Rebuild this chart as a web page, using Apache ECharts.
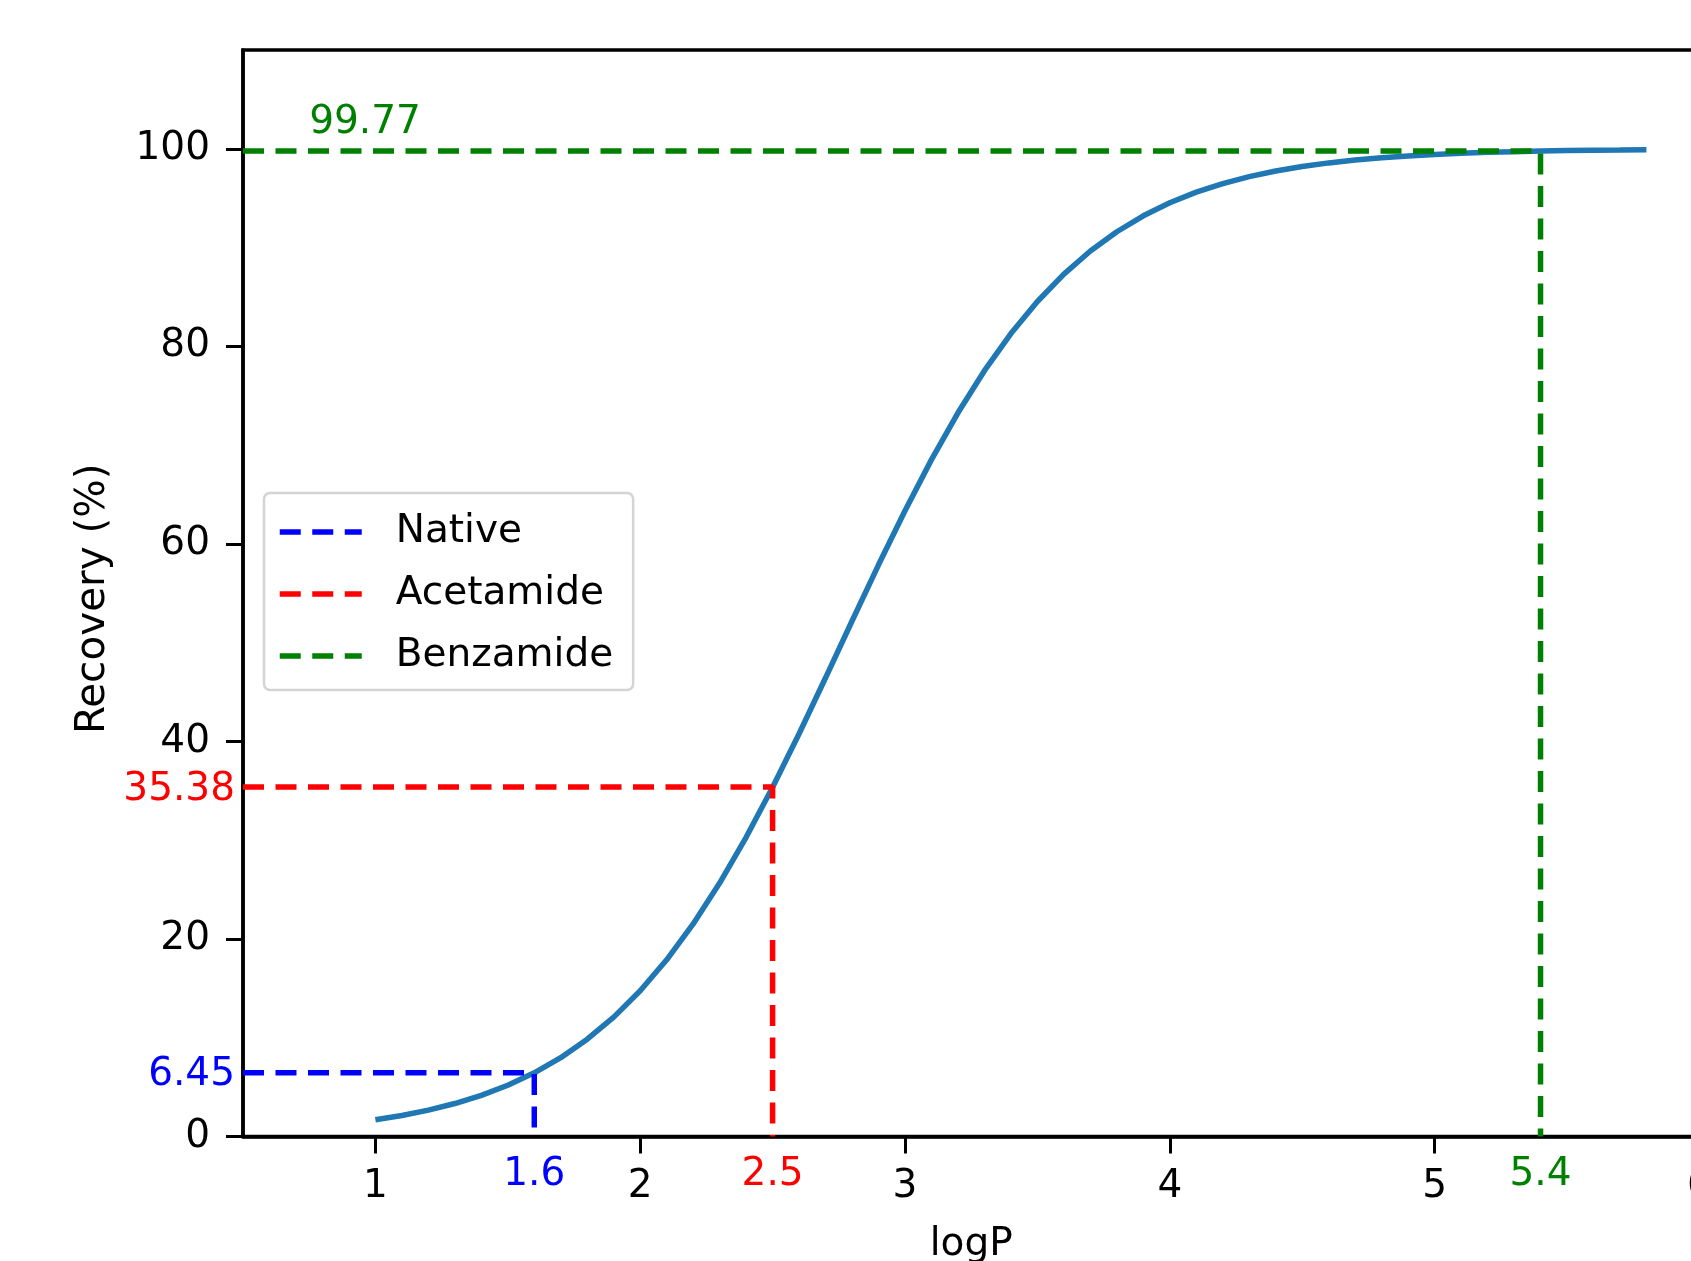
<!DOCTYPE html>
<html><head><meta charset="utf-8">
<script src="https://cdn.jsdelivr.net/npm/echarts@6/dist/echarts.min.js"></script>
<style>html,body{margin:0;padding:0;background:#fff;}#c{width:1691px;height:1261px;}</style>
</head><body><div id="c"></div>
<script>
// ---- data ----
const curveLogP = [1.0,1.1,1.2,1.3,1.4,1.5,1.6,1.7,1.8,1.9,2.0,2.1,2.2,2.3,2.4,2.5,2.6,2.7,2.8,2.9,3.0,3.1,3.2,3.3,3.4,3.5,3.6,3.7,3.8,3.9,4.0,4.1,4.2,4.3,4.4,4.5,4.6,4.7,4.8,4.9,5.0,5.1,5.2,5.3,5.4,5.5,5.6,5.7,5.8];
const curveRecovery = [1.70,2.13,2.67,3.34,4.17,5.19,6.45,7.98,9.85,12.09,14.75,17.89,21.52,25.66,30.29,35.36,40.78,46.44,52.19,57.88,63.36,68.53,73.27,77.53,81.29,84.54,87.31,89.65,91.60,93.21,94.53,95.61,96.48,97.18,97.75,98.20,98.57,98.86,99.09,99.28,99.42,99.54,99.64,99.71,99.77,99.82,99.86,99.88,99.91];
const compounds = ['Native', 'Acetamide', 'Benzamide'];
const compoundLogP = [1.6, 2.5, 5.4];
const compoundRecovery = [6.45, 35.38, 99.77];
const xTickValues = [1, 2, 3, 4, 5, 6];
const yTickValues = [0, 20, 40, 60, 80, 100];
const X_MIN = 0.5, X_MAX = 6, Y_MIN = 0, Y_MAX = 110;

// ---- styles ----
const compoundColors = ['#0000ff', '#ff0000', '#008000'];
const FONT = 'DejaVu Sans';
const FS = 39;
const DASH = [21, 11.5];

const chart = echarts.init(document.getElementById('c'), null, {renderer: 'canvas', width: 1691, height: 1261});

const series = [];
series.push({
  type: 'line', name: 'curve',
  data: curveLogP.map((x, i) => [x, curveRecovery[i]]),
  symbol: 'none', silent: true, z: 2,
  lineStyle: {color: '#1f77b4', width: 5.5},
  itemStyle: {color: '#1f77b4'}
});
compounds.forEach((name, i) => {
  const x = compoundLogP[i], r = compoundRecovery[i];
  series.push({
    type: 'line', name: name,
    data: [[X_MIN, r], [x, r], [x, Y_MIN]],
    symbol: 'none', silent: true, z: 3,
    lineStyle: {color: compoundColors[i], width: 5.5, type: DASH, cap: 'butt'},
    itemStyle: {color: compoundColors[i]}
  });
});

const ann = [];
compounds.forEach((name, i) => {
  const x = compoundLogP[i], r = compoundRecovery[i], c = compoundColors[i];
  ann.push({value: [x, Y_MIN], label: {show: true, formatter: String(x), position: 'inside', offset: [0, 38], color: c}});
  if (r > 95) {
    ann.push({value: [X_MIN + 0.25, r], label: {show: true, formatter: r.toFixed(2), position: 'right', distance: 0, offset: [0, -28.5], color: c}});
  } else {
    ann.push({value: [X_MIN, r], label: {show: true, formatter: r.toFixed(2), position: 'left', distance: 8, offset: [0, 2.5], color: c}});
  }
});
series.push({
  type: 'scatter', name: 'annotations', data: ann,
  symbolSize: 0, clip: false, silent: true, z: 5,
  itemStyle: {opacity: 1},
  label: {fontFamily: FONT, fontSize: FS, opacity: 1, textBorderWidth: 0, textShadowBlur: 0}
});

const axisCommon = {
  type: 'value',
  nameLocation: 'middle',
  nameTextStyle: {fontFamily: FONT, fontSize: FS, color: '#000'},
  axisLine: {show: true, onZero: false, lineStyle: {color: '#000', width: 3.5}},
  splitLine: {show: false}
};

chart.setOption({
  animation: false,
  backgroundColor: '#fff',
  textStyle: {fontFamily: FONT},
  grid: {left: 243, top: 50, width: 1456.4, height: 1086.5, show: true, borderColor: '#000', borderWidth: 3.5,
         backgroundColor: 'transparent', containLabel: false, outerBoundsMode: 'none'},
  legend: {
    data: compounds, orient: 'vertical', left: 264, top: 493,
    itemWidth: 82, itemHeight: 14, itemGap: 22,
    padding: [19, 20, 14, 13],
    backgroundColor: '#fff', borderColor: '#d4d4d4', borderWidth: 2.5, borderRadius: 6,
    textStyle: {fontFamily: FONT, fontSize: FS, color: '#000', padding: [0, 0, 0, 29], lineHeight: 40},
    lineStyle: {width: 5.5},
    itemStyle: {opacity: 0},
    selectedMode: false, z: 10
  },
  xAxis: Object.assign({}, axisCommon, {
    min: X_MIN, max: X_MAX, name: 'logP', nameGap: 89,
    axisTick: {show: true, customValues: xTickValues, length: 17, lineStyle: {color: '#000', width: 3}},
    axisLabel: {customValues: xTickValues, fontFamily: FONT, fontSize: FS, color: '#000', margin: 31}
  }),
  yAxis: Object.assign({}, axisCommon, {
    min: Y_MIN, max: Y_MAX, name: 'Recovery (%)', nameGap: 129,
    nameTextStyle: {fontFamily: FONT, fontSize: 40.5, color: '#000', padding: [0, 11, 0, 0]},
    axisTick: {show: true, customValues: yTickValues, length: 17, lineStyle: {color: '#000', width: 3}},
    axisLabel: {customValues: yTickValues, fontFamily: FONT, fontSize: FS, color: '#000', margin: 33}
  }),
  series: series
});
</script>
</body></html>
